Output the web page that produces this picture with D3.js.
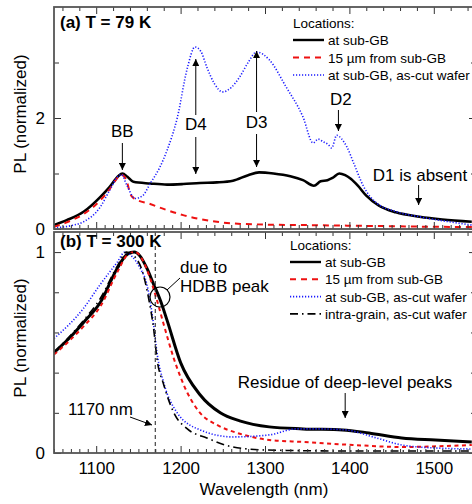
<!DOCTYPE html>
<html>
<head>
<meta charset="utf-8">
<script src="https://cdn.jsdelivr.net/npm/d3@7"></script>
<style>
body{margin:0;background:#fff;}
svg{display:block;font-family:"Liberation Sans",Arial,Helvetica,sans-serif;}
.tk line{stroke:#333;stroke-width:1;}
.tk text{font-size:17px;fill:#000;}
</style>
</head>
<body>
<svg id="s" width="472" height="504"></svg>
<script>
// ---- panel (a) T = 79 K ----
var waveA_sub = [1050,1065,1085,1105,1116,1126,1131,1137,1144,1164,1184,1203,1223,1243,1262,1280,1293,1310,1330,1345,1358,1366,1374,1380,1388,1395,1402,1410,1420,1435,1455,1483,1510,1545];
var plA_sub   = [0.07,0.16,0.31,0.58,0.76,0.95,1.0,0.94,0.85,0.82,0.80,0.81,0.83,0.84,0.87,0.97,1.02,1.0,0.95,0.88,0.78,0.86,0.88,0.92,1.0,0.97,0.9,0.78,0.6,0.42,0.3,0.22,0.17,0.13];

var waveA_15 = [1050,1065,1085,1105,1116,1124,1129,1133,1137,1140,1144,1164,1184,1203,1223,1243,1262,1300,1350,1400,1450,1500,1550];
var plA_15   = [0.04,0.12,0.27,0.52,0.72,0.9,0.98,0.95,0.82,0.65,0.56,0.45,0.34,0.25,0.18,0.13,0.1,0.08,0.07,0.06,0.05,0.04,0.035];

var waveA_cut = [1050,1070,1085,1105,1116,1126,1130,1136,1146,1155,1164,1175,1184,1196,1208,1217,1224,1231,1240,1250,1260,1270,1280,1290,1305,1325,1345,1357,1363,1369,1375,1379,1385,1391,1397,1405,1417,1432,1456,1483,1510,1545];
var plA_cut   = [0.02,0.06,0.13,0.40,0.70,0.95,0.98,0.8,0.55,0.6,0.82,1.1,1.42,2.0,2.9,3.28,3.2,2.92,2.62,2.47,2.55,2.74,3.0,3.19,3.05,2.56,2.02,1.55,1.62,1.57,1.52,1.46,1.69,1.62,1.48,1.19,0.76,0.47,0.31,0.22,0.15,0.07];

// ---- panel (b) T = 300 K ----
var waveB_sub = [1050,1070,1085,1105,1125,1137,1145,1152,1160,1168,1176,1184,1200,1223,1247,1270,1305,1345,1392,1423,1462,1502,1545];
var plB_sub   = [0.5,0.58,0.65,0.75,0.92,0.99,1.0,0.98,0.92,0.84,0.76,0.66,0.45,0.29,0.2,0.16,0.13,0.12,0.115,0.1,0.075,0.065,0.055];

var waveB_15 = [1050,1085,1105,1125,1138,1146,1155,1163,1172,1180,1192,1208,1223,1243,1267,1305,1345,1404,1462,1545];
var plB_15   = [0.49,0.63,0.73,0.9,0.99,1.0,0.96,0.88,0.76,0.64,0.47,0.3,0.2,0.14,0.1,0.065,0.055,0.04,0.03,0.04];

var waveB_cut = [1050,1085,1105,1125,1134,1142,1152,1160,1168,1172,1180,1196,1223,1262,1305,1337,1364,1395,1432,1462,1502,1545];
var plB_cut   = [0.57,0.72,0.84,0.95,1.0,0.98,0.92,0.84,0.64,0.5,0.35,0.2,0.115,0.08,0.09,0.12,0.12,0.115,0.075,0.04,0.025,0.02];

var waveB_intra = [1050,1085,1105,1125,1136,1145,1155,1163,1168,1172,1180,1192,1208,1231,1262,1300,1400,1545];
var plB_intra   = [0.5,0.66,0.77,0.93,1.0,0.98,0.9,0.75,0.62,0.47,0.34,0.2,0.12,0.075,0.03,0.015,0.01,0.01];

var xMajor = [1100,1200,1300,1400,1500];
var yMajorA = [0,2], yMinorA = [1,3];
var yMajorB = [0,1], yMinorB = [0.2,0.4,0.6,0.8];

var legendA = ["at sub-GB","15 \u00b5m from sub-GB","at sub-GB, as-cut wafer"];
var legendB = ["at sub-GB","15 \u00b5m from sub-GB","at sub-GB, as-cut wafer","intra-grain, as-cut wafer"];

var svg = d3.select("#s");
var L = 54, R = 476;
var x = d3.scaleLinear().domain([1050,1550]).range([L,R]);
var yA = d3.scaleLinear().domain([0,4]).range([229,7]);
var yB = d3.scaleLinear().domain([0,1.1]).range([453,232]);

var sBlack = {c:"#000", w:2.6, d:null};
var sBlackB = {c:"#000", w:3, d:null};
var sRed   = {c:"#ee1111", w:2, d:"6,5"};
var sRedB  = {c:"#ee1111", w:2, d:"4,3.5"};
var sBlue  = {c:"#1a1aff", w:1.6, d:"1.2,1.8"};
var sDash  = {c:"#000", w:1.6, d:"8,4,1.5,4"};

var defs = svg.append("defs");
defs.append("marker").attr("id","arr").attr("viewBox","0 0 10 10")
  .attr("refX",10).attr("refY",5).attr("markerWidth",7).attr("markerHeight",7)
  .attr("markerUnits","userSpaceOnUse").attr("orient","auto")
  .append("path").attr("d","M0,0L10,5L0,10z").attr("fill","#000");

function clip(id, y) {
  defs.append("clipPath").attr("id",id).append("rect")
    .attr("x",L).attr("y",y.range()[1]).attr("width",R-L).attr("height",y.range()[0]-y.range()[1]);
}
clip("ca", yA); clip("cb", yB);

function curve(g, wave, vals, y, st) {
  var line = d3.line().x(function(d){return x(d[0]);}).y(function(d){return y(d[1]);}).curve(d3.curveMonotoneX);
  g.append("path").datum(d3.zip(wave, vals)).attr("d", line)
    .attr("fill","none").attr("stroke",st.c).attr("stroke-width",st.w)
    .attr("stroke-dasharray",st.d).attr("stroke-linejoin","round");
}

function axes(y, majorY, minorY, labelsX) {
  var top = y.range()[1], bot = y.range()[0];
  var minorX = d3.range(1050,1551,10).filter(function(v){return v%100!=0;});
  var topMinor = d3.range(1060,1551,20).filter(function(v){return v%100!=0;});
  svg.append("g").attr("class","tk").attr("transform","translate(0,"+bot+")")
    .call(d3.axisBottom(x).tickValues(minorX).tickSize(-4).tickFormat(""));
  svg.append("g").attr("class","tk").attr("transform","translate(0,"+bot+")")
    .call(d3.axisBottom(x).tickValues(xMajor).tickSize(-7).tickPadding(9).tickFormat(labelsX ? d3.format("d") : ""));
  svg.append("g").attr("class","tk").attr("transform","translate(0,"+top+")")
    .call(d3.axisTop(x).tickValues(topMinor).tickSize(-4).tickFormat(""));
  svg.append("g").attr("class","tk").attr("transform","translate(0,"+top+")")
    .call(d3.axisTop(x).tickValues(xMajor).tickSize(-7).tickFormat(""));
  svg.append("g").attr("class","tk").attr("transform","translate("+L+",0)")
    .call(d3.axisLeft(y).tickValues(majorY).tickSize(-7).tickPadding(9).tickFormat(d3.format("d")));
  svg.append("g").attr("class","tk").attr("transform","translate("+L+",0)")
    .call(d3.axisLeft(y).tickValues(minorY).tickSize(-5).tickFormat(""));
  svg.append("g").attr("class","tk").attr("transform","translate("+R+",0)")
    .call(d3.axisRight(y).tickValues(majorY).tickSize(-7).tickFormat(""));
  svg.append("g").attr("class","tk").attr("transform","translate("+R+",0)")
    .call(d3.axisRight(y).tickValues(minorY).tickSize(-5).tickFormat(""));
  svg.selectAll(".tk .domain").remove();
  svg.append("rect").attr("x",L).attr("y",top).attr("width",R-L).attr("height",bot-top)
    .attr("fill","none").attr("stroke","#555").attr("stroke-width",1.8);
}

function txt(xp, yp, s, size, anchor, bold) {
  return svg.append("text").attr("x",xp).attr("y",yp).text(s)
    .attr("font-size",size).attr("text-anchor",anchor||"start")
    .attr("font-weight",bold?"bold":"normal");
}
function arrow(x1,y1,x2,y2) {
  svg.append("line").attr("x1",x1).attr("y1",y1).attr("x2",x2).attr("y2",y2)
    .attr("stroke","#000").attr("stroke-width",1).attr("marker-end","url(#arr)");
}
function legend(x0, y0, names, styles, gap) {
  txt(x0, y0, "Locations:", 13.5);
  names.forEach(function(n,i){
    var yy = y0 + 17 + i*gap;
    svg.append("line").attr("x1",x0).attr("x2",x0+31).attr("y1",yy-5).attr("y2",yy-5)
      .attr("stroke",styles[i].c).attr("stroke-width",Math.min(styles[i].w,2.4)).attr("stroke-dasharray",styles[i].d);
    txt(x0+35, yy, n, 13.5);
  });
}

// panel a
var ga = svg.append("g").attr("clip-path","url(#ca)");
curve(ga, waveA_sub, plA_sub, yA, sBlack);
curve(ga, waveA_15, plA_15, yA, sRed);
curve(ga, waveA_cut, plA_cut, yA, sBlue);
axes(yA, yMajorA, yMinorA, false);

// panel b
var gb = svg.append("g").attr("clip-path","url(#cb)");
svg.append("line").attr("x1",x(1170)).attr("x2",x(1170)).attr("y1",yB.range()[1]).attr("y2",yB.range()[0])
  .attr("stroke","#333").attr("stroke-width",1.1).attr("stroke-dasharray","4,3");
curve(gb, waveB_sub, plB_sub, yB, sBlackB);
curve(gb, waveB_15, plB_15, yB, sRedB);
curve(gb, waveB_cut, plB_cut, yB, sBlue);
curve(gb, waveB_intra, plB_intra, yB, sDash);
axes(yB, yMajorB, yMinorB, true);

// titles
txt(60, 28, "(a) T = 79 K", 17, "start", true);
txt(60, 247, "(b) T = 300 K", 17, "start", true);
txt(20, 114, "PL (normalized)", 17, "middle").attr("transform","rotate(-90,20,114)").attr("dy","0.35em");
txt(20, 338, "PL (normalized)", 17, "middle").attr("transform","rotate(-90,20,338)").attr("dy","0.35em");
txt(264, 495, "Wavelength (nm)", 17, "middle");

// legends
legend(293, 28, legendA, [sBlack, sRed, sBlue], 17.5);
legend(290, 250, legendB, [sBlack, sRed, sBlue, sDash], 17.3);

// annotations panel a
txt(x(1131), 137, "BB", 17, "middle");
arrow(x(1131), 143, x(1131), 170);
txt(x(1218), 130, "D4", 17, "middle");
arrow(x(1218), 115, x(1218), 59);
arrow(x(1218), 137, x(1218), 174);
txt(x(1290), 128, "D3", 17, "middle");
arrow(x(1290), 112, x(1290), 51);
arrow(x(1290), 134, x(1290), 167);
txt(x(1390), 105, "D2", 17, "middle");
arrow(x(1387), 110, x(1387), 131);
txt(420, 181, "D1 is absent", 17, "middle");
arrow(x(1482), 185, x(1482), 205);

// annotations panel b
txt(180, 273, "due to", 17);
txt(180, 292, "HDBB peak", 17);
svg.append("circle").attr("cx",160).attr("cy",297).attr("r",10).attr("fill","none").attr("stroke","#000").attr("stroke-width",1.2);
svg.append("line").attr("x1",167).attr("y1",290).attr("x2",180).attr("y2",278).attr("stroke","#000").attr("stroke-width",1);
txt(68, 415, "1170 nm", 17);
arrow(130, 417, 152, 425);
txt(345, 388, "Residue of deep-level peaks", 17, "middle");
arrow(x(1395), 393, x(1395), 418);
</script>
</body>
</html>
